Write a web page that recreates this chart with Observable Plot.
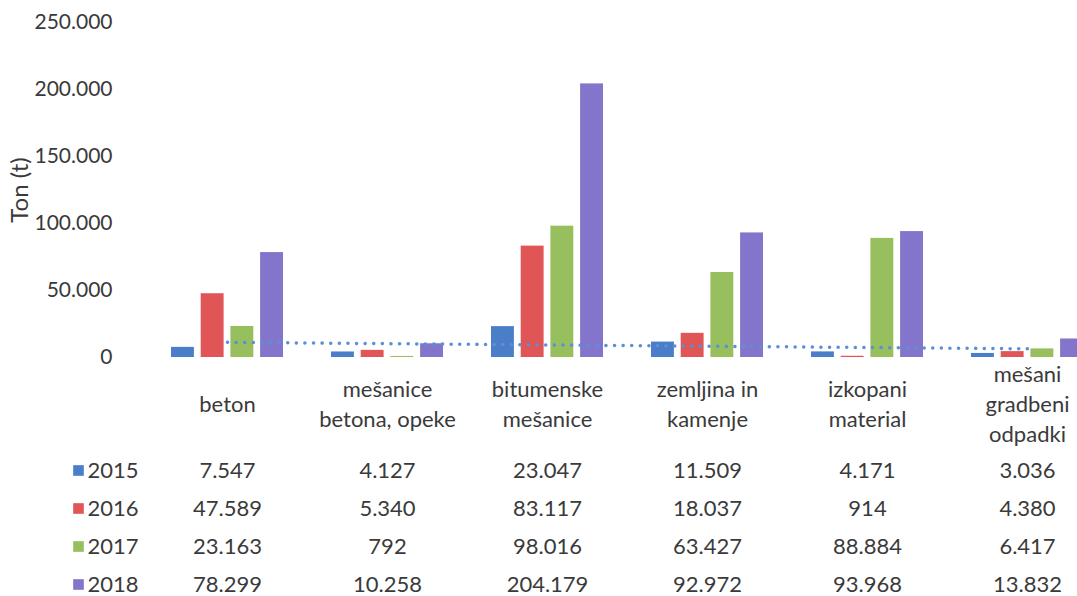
<!DOCTYPE html>
<html>
<head>
<meta charset="utf-8">
<script src="https://cdn.jsdelivr.net/npm/d3@7"></script>
<script src="https://cdn.jsdelivr.net/npm/@observablehq/plot@0.6"></script>
<style>
  html, body { margin: 0; padding: 0; background: #fff; overflow: hidden; }
  #chart svg { display: block; max-width: none !important; }
</style>
</head>
<body>
<div id="chart"></div>
<script>
// ---- data ----
const categories = ["beton", "mešanice betona, opeke", "bitumenske mešanice", "zemljina in kamenje", "izkopani material", "mešani gradbeni odpadki"];
const categoryLabels = ["beton", "mešanice\nbetona, opeke", "bitumenske\nmešanice", "zemljina in\nkamenje", "izkopani\nmaterial", "mešani\ngradbeni\nodpadki"];
const years = ["2015", "2016", "2017", "2018"];
const values2015 = [7547, 4127, 23047, 11509, 4171, 3036];
const values2016 = [47589, 5340, 83117, 18037, 914, 4380];
const values2017 = [23163, 792, 98016, 63427, 88884, 6417];
const values2018 = [78299, 10258, 204179, 92972, 93968, 13832];
const yTicks = [0, 50000, 100000, 150000, 200000, 250000];
// linear trend line of 2015 (endpoints)
const trendCategories = ["beton", "mešani gradbeni odpadki"];
const trendValues = [11300, 6500];

const colors = ["#4a7ec8", "#e05555", "#97bf5e", "#8475cc"];
const series = [values2015, values2016, values2017, values2018];

const rows = [];
years.forEach((yr, i) => categories.forEach((c, j) => rows.push({year: yr, cat: c, value: series[i][j]})));
const trend = trendCategories.map((c, i) => ({cat: c, value: trendValues[i]}));

const fmt = d3.formatLocale({thousands: ".", decimal: ",", grouping: [3], currency: ["", ""]}).format(",d");

const textColor = "#3a3a3a";
const font = "Lato, 'Open Sans', sans-serif";

// bar geometry inside each category band
const bandW = 112.1, barStep = 29.7, barW = 23;

const marks = [];
marks.push(Plot.axisY({
  ticks: yTicks, tickFormat: fmt, tickSize: 0, tickPadding: 34, fontSize: 21,
  label: null, fill: textColor
}));
marks.push(Plot.axisY({
  ticks: [], tickSize: 0, fontSize: 24,
  label: "Ton (t)", labelAnchor: "center", labelArrow: "none", labelOffset: 136,
  fill: textColor
}));
years.forEach((yr, i) => {
  marks.push(Plot.barY(rows.filter(d => d.year === yr), {
    x: "cat", y: "value", fill: colors[i],
    insetLeft: i * barStep, insetRight: bandW - i * barStep - barW
  }));
});
marks.push(Plot.line(trend, {
  x: "cat", y: "value", stroke: "#5b8fd6", strokeWidth: 3.5,
  strokeDasharray: "0.1 8.5", strokeLinecap: "round"
}));
// category labels
marks.push(Plot.text(categories, {
  x: d => d, text: (d, i) => categoryLabels[i], frameAnchor: "bottom",
  dy: 45, lineAnchor: "middle", lineHeight: 1.36, fontSize: 22, fill: textColor
}));
// data table rows + legend keys
years.forEach((yr, i) => {
  const dy = 113 + i * 38;
  marks.push(Plot.text(rows.filter(d => d.year === yr), {
    x: "cat", text: d => fmt(d.value), frameAnchor: "bottom", dy,
    lineAnchor: "middle", fontSize: 22, fill: textColor
  }));
  marks.push(Plot.dot([yr], {
    frameAnchor: "bottom-left", dx: -68, dy, symbol: "square", r: 6, fill: colors[i]
  }));
  marks.push(Plot.text([yr], {
    text: d => d, frameAnchor: "bottom-left", dx: -59, dy, textAnchor: "start",
    lineAnchor: "middle", fontSize: 22, fill: textColor
  }));
});

const chart = Plot.plot({
  width: 1110,
  height: 596,
  marginTop: 22,
  marginBottom: 239,
  marginLeft: 146,
  marginRight: 3,
  style: {fontFamily: font, color: textColor, background: "#fff", overflow: "visible"},
  x: {domain: categories, paddingInner: 0.3, paddingOuter: 0.15, axis: null},
  y: {domain: [0, 250000]},
  marks
});
document.getElementById("chart").appendChild(chart);
</script>
</body>
</html>
